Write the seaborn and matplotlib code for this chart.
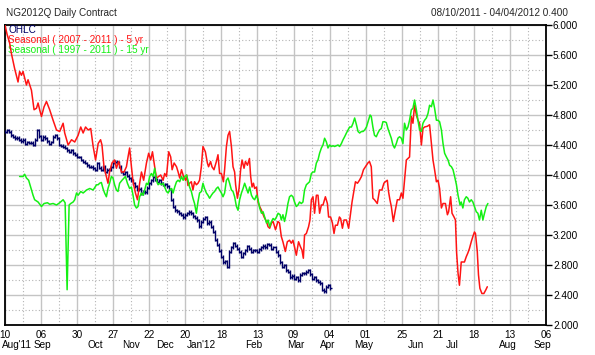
import numpy as np
import matplotlib
matplotlib.use("Agg")
import matplotlib.pyplot as plt
from matplotlib.ticker import MultipleLocator, FormatStrFormatter
import seaborn as sns

sns.set_style("white")
plt.rcParams["font.family"] = ["Liberation Sans", "DejaVu Sans"]

# trading-day axis: day 0 = 10 Aug 2011, one tick every 18 trading days
day_ticks = ["10", "06", "30", "27", "22", "20", "18", "13", "09", "04",
             "01", "25", "21", "18", "13", "06"]
month_names = ["Aug'11", "Sep", "Oct", "Nov", "Dec", "Jan'12", "Feb", "Mar",
               "Apr", "May", "Jun", "Jul", "Aug", "Sep"]
month_days = [4, 18.6, 45, 63, 80, 98, 124, 145, 161, 179, 205, 223, 251, 268]

# daily closes of NG2012Q, 10 Aug 2011 - 04 Apr 2012
closes = [4.58, 4.60, 4.58, 4.53, 4.51, 4.49, 4.50, 4.47, 4.45, 4.47, 4.42, 4.44,
          4.43, 4.43, 4.40, 4.47, 4.60, 4.52, 4.47, 4.51, 4.49, 4.45, 4.42, 4.44,
          4.51, 4.53, 4.49, 4.40, 4.39, 4.38, 4.36, 4.33, 4.31, 4.33, 4.29, 4.27,
          4.24, 4.24, 4.20, 4.18, 4.16, 4.13, 4.11, 4.11, 4.09, 4.07, 4.16, 4.10,
          4.07, 4.11, 4.04, 4.07, 4.07, 4.11, 4.16, 4.18, 4.17, 4.11,
          4.04, 4.02, 4.04, 3.99, 3.96, 3.93, 3.89, 3.85, 3.81, 3.82,
          3.76, 3.78, 3.77, 3.83, 3.89, 3.93, 3.98, 3.94, 3.91, 3.93,
          3.89, 3.87, 3.88, 3.85, 3.81, 3.67, 3.58, 3.53, 3.52, 3.49,
          3.47, 3.44, 3.47, 3.49, 3.51,
          3.49, 3.45, 3.43, 3.40, 3.32, 3.38, 3.42, 3.44, 3.36, 3.38,
          3.31, 3.24, 3.14, 3.07, 2.99, 2.91, 2.84, 2.85, 2.78, 2.98,
          3.04, 3.09, 3.06, 3.02, 2.98, 2.91, 2.96, 3.00, 3.05, 3.02,
          2.98, 3.00, 3.00, 2.98, 3.01, 3.04, 3.06, 3.04, 3.08, 3.07,
          3.02, 3.04, 2.98, 2.93,
          2.84, 2.78, 2.80, 2.73, 2.71, 2.64, 2.66, 2.62, 2.64, 2.60,
          2.67, 2.69, 2.69, 2.71, 2.73, 2.68, 2.62, 2.64, 2.60, 2.58,
          2.56, 2.47, 2.45, 2.51, 2.53, 2.49]

# seasonal 2007-2011 (5 yr)
red_day = [0, 1, 2.3, 3.2, 4.8, 6.5, 7.3, 8.2, 9, 10.7, 11.5, 13.2, 14.5, 15.7,
           16.5, 17.3, 18.2, 19.5, 20.7, 22.3, 24, 25.7, 27.3, 29, 29.8, 31.5,
           33.2, 34.8, 36.5, 37.8, 39, 40.2, 41.5, 42.8, 44, 45.2, 46.5, 47.7,
           48.4, 49.4, 50.6, 51.4, 52.2, 53.4, 54.7, 55.6, 56.7, 58.1, 59.4,
           60.6, 61.4, 62.2, 63.1, 63.9, 65.1, 66.1, 67.2, 68.1, 69.2, 70.6,
           71.7, 72.7, 73.6, 74.7, 75.6, 76.7, 77.7, 78.9, 79.7, 80.6, 81.7,
           82.7, 83.4, 84.4, 85.6, 86.4, 87.2, 88.1, 89.1, 90.1, 90.7, 91.3,
           92.1, 93, 93.8, 94.6, 95.5, 96.3, 97.1, 98, 98.8, 100, 101, 101.6,
           102.6, 103.3, 104.3, 105.5, 106.3, 107.1, 108, 109, 109.6, 110.5,
           111.3, 112.1, 113, 113.8, 114.6, 115.1, 116, 116.8, 117.6, 118.3,
           119.3, 120, 121, 122, 122.6, 123.3, 124, 124.6, 125.5, 126.3, 127.1,
           128, 129.3, 130.5, 131.3, 132.1, 133, 133.8, 135, 136.2, 137, 137.9,
           138.7, 139.9, 140.9, 142, 142.9, 143.7, 144.5, 145.4, 146.5, 147.5,
           148.2, 148.9, 149.5, 150.4, 151.5, 152.2, 152.9, 153.7, 154.5, 155.4,
           156.2, 157, 157.9, 158.7, 159.9, 160.9, 161.5, 162.5, 163.4, 164.2,
           164.9, 165.9, 166.9, 167.5, 168.4, 169.2, 170.4, 171.5, 172.5, 173.2,
           174.2, 174.9, 175.9, 176.9, 177.9, 178.9, 179.9, 181.1, 181.9, 182.8,
           183.6, 184.4, 185.8, 186.9, 188.1, 189.1, 189.8, 190.8, 191.4, 192.1,
           192.8, 193.8, 194.8, 195.8, 196.9, 197.8, 198.6, 199.4, 200.3, 201.1,
           201.9, 202.8, 203.6, 204.4, 205.3, 206.1, 206.9, 207.8, 208.6, 209.4,
           210.8, 211.9, 212.8, 213.6, 214.4, 215.3, 216.1, 216.9, 217.8, 218.6,
           219.8, 220.8, 221.4, 222.4, 223.1, 224.1, 224.8, 225.4, 226.1, 226.8,
           227.7, 229.3, 230.2, 231, 231.8, 232.7, 233.5, 234.3, 234.8, 235.7,
           236.3, 237, 238, 239, 240, 240.7]
red_val = [6.00, 5.88, 5.76, 5.62, 5.42, 5.24, 5.38, 5.33, 5.38, 5.20, 5.27, 5.13,
           4.87, 4.89, 4.96, 4.87, 4.78, 4.91, 4.98, 4.87, 4.73, 4.60, 4.58, 4.69,
           4.56, 4.40, 4.47, 4.44, 4.53, 4.64, 4.56, 4.64, 4.60, 4.62, 4.38, 4.20,
           4.42, 4.47, 4.40, 4.11, 3.98, 3.89, 4.04, 4.16, 4.20, 4.09, 4.18, 4.04,
           4.04, 4.11, 4.24, 4.36, 4.11, 3.91, 3.76, 3.67, 3.89, 4.04, 3.93, 4.16,
           4.29, 4.20, 4.31, 4.11, 3.96, 3.98, 4.00, 3.93, 4.02, 3.98, 4.31, 4.24,
           4.07, 4.16, 4.11, 4.04, 3.96, 4.07, 3.98, 3.93, 4.00, 3.86, 3.89, 3.91,
           3.80, 3.91, 3.87, 3.89, 3.93, 4.11, 4.38, 4.31, 4.16, 4.11, 4.18, 4.11,
           4.07, 4.18, 4.27, 4.02, 4.02, 3.91, 4.07, 4.38, 4.53, 4.58, 4.38, 4.11,
           4.04, 3.87, 3.69, 3.82, 4.07, 4.20, 4.09, 4.18, 4.13, 4.22, 3.98, 3.84,
           3.89, 3.82, 3.84, 3.64, 3.58, 3.53, 3.44, 3.38, 3.31, 3.29, 3.36, 3.38,
           3.27, 3.38, 3.36, 3.18, 3.11, 2.98, 3.11, 3.13, 3.09, 3.13, 3.04, 2.93,
           3.11, 3.04, 3.00, 2.89, 3.20, 3.22, 3.31, 3.40, 3.67, 3.71, 3.49, 3.73,
           3.73, 3.49, 3.60, 3.60, 3.71, 3.62, 3.44, 3.44, 3.36, 3.22, 3.33, 3.33,
           3.44, 3.42, 3.29, 3.40, 3.40, 3.29, 3.49, 3.64, 3.80, 3.91, 3.89, 3.93,
           3.98, 4.07, 4.11, 4.16, 4.18, 4.11, 3.69, 3.67, 3.62, 3.80, 3.80, 3.89,
           3.91, 3.93, 3.78, 3.67, 3.58, 3.38, 3.53, 3.67, 3.67, 3.76, 3.69, 3.93,
           4.20, 4.22, 4.24, 4.78, 4.69, 4.93, 4.80, 4.73, 4.69, 4.40, 4.62, 4.64,
           4.65, 4.67, 4.42, 4.20, 4.07, 3.91, 3.93, 3.82, 3.56, 3.62, 3.62, 3.47,
           3.51, 3.71, 3.49, 3.44, 3.40, 2.96, 2.69, 2.53, 2.84, 2.84, 2.91, 2.96,
           3.02, 3.11, 3.18, 3.24, 3.22, 2.98, 2.67, 2.49, 2.42, 2.42, 2.47, 2.51]

# seasonal 1997-2011 (15 yr)
green_day = [7.3, 9, 9.8, 10.7, 11.8, 12.8, 14, 14.8, 16.5, 18.2, 19.5, 21.2, 22.3,
             24, 25.7, 27.3, 29, 30, 31, 32, 32.8, 34, 34.8, 35.7, 36.5, 37.8, 39,
             40.7, 42.3, 44, 45.7, 46.5, 47.2, 48.1, 48.9, 49.7, 50.6, 51.4, 52.2,
             53.1, 53.9, 54.7, 55.6, 56.4, 57.2, 58.4, 59.4, 60.1, 61.1, 62.2, 63.1,
             63.9, 64.7, 65.6, 66.4, 67.2, 68.1, 68.9, 69.7, 70.6, 71.4, 72.2, 73.1,
             73.9, 74.7, 75.6, 76.4, 77.2, 78.1, 78.9, 79.7, 80.6, 81.4, 82.2, 83.1,
             83.9, 84.7, 85.6, 86.4, 87.2, 88.1, 88.9, 89.7, 90.6, 91.4, 92.1, 93,
             93.8, 94.6, 95.5, 96.3, 97.1, 98, 98.8, 99.6, 100.5, 101.3, 102.1, 103,
             103.8, 104.6, 105.5, 106.3, 107.1, 108, 108.8, 109.6, 110.5, 111.3,
             112.1, 113, 113.8, 114.6, 115.5, 116.3, 117.1, 118, 118.8, 119.6,
             120.5, 121.3, 122.1, 123, 123.8, 124.6, 125.5, 126.3, 127.1, 128,
             128.8, 129.6, 130.5, 131.3, 132.1, 133, 133.8, 134.6, 135.5, 136.3,
             137.3, 137.9, 138.7, 139.5, 140.4, 141.2, 142, 142.9, 143.7, 144.5,
             145.4, 146.2, 147, 147.9, 148.7, 149.5, 150.4, 151.2, 152, 152.9,
             153.7, 154.5, 155.4, 156.2, 157, 157.9, 158.7, 159.5, 160.4, 161.2,
             162, 162.9, 163.7, 164.5, 165.4, 166.2, 167, 167.9, 168.7, 169.5,
             170.4, 171.2, 172, 172.9, 173.7, 174.5, 175.4, 176.2, 177, 177.9,
             178.7, 179.5, 180.4, 181.2, 182.2, 182.8, 183.6, 184.4, 185.3, 186.1,
             186.9, 187.8, 188.6, 189.4, 190.3, 191.1, 191.9, 192.8, 193.6, 194.4,
             195.3, 196.1, 196.9, 197.8, 198.6, 199.4, 200.3, 201.1, 201.9, 202.8,
             203.6, 204.4, 205.3, 206.1, 206.9, 207.8, 208.6, 209.4, 210.3, 211.1,
             211.9, 212.8, 213.6, 214.4, 215.3, 216.1, 216.9, 217.8, 218.6, 219.4,
             220.3, 221.1, 221.9, 222.8, 223.6, 224.4, 225.3, 226.1, 227.1, 227.7,
             228.5, 229.3, 230.2, 231, 231.8, 232.7, 233.5, 234.3, 235.2, 236,
             236.8, 237.7, 238.5, 239.3, 240.2, 241]
green_val = [3.98, 3.98, 4.01, 3.96, 3.93, 3.84, 3.73, 3.67, 3.64, 3.58, 3.62, 3.63,
             3.61, 3.62, 3.60, 3.63, 3.67, 3.63, 2.47, 3.60, 3.62, 3.64, 3.67, 3.76,
             3.73, 3.78, 3.76, 3.80, 3.82, 3.80, 3.87, 3.87, 3.89, 3.90, 3.82, 3.76,
             3.71, 3.82, 3.89, 3.98, 3.96, 3.87, 3.80, 3.78, 3.89, 3.93, 3.96, 3.98,
             3.89, 3.82, 3.84, 3.73, 3.60, 3.56, 3.58, 3.71, 3.76, 3.73, 3.80, 3.89,
             3.87, 3.98, 4.02, 3.98, 4.09, 3.93, 3.87, 3.89, 3.87, 3.89, 3.84, 3.78,
             3.76, 3.80, 3.82, 3.76, 3.84, 3.91, 3.93, 3.91, 3.98, 3.93, 3.98, 4.00,
             3.92, 3.84, 3.78, 3.69, 3.62, 3.49, 3.64, 3.76, 3.78, 3.89, 3.82, 3.76,
             3.73, 3.69, 3.73, 3.76, 3.78, 3.82, 3.84, 3.80, 3.76, 3.71, 3.76, 3.93,
             3.96, 3.89, 3.80, 3.78, 3.71, 3.58, 3.53, 3.67, 3.76, 3.82, 3.89, 3.82,
             3.76, 3.84, 3.73, 3.69, 3.67, 3.73, 3.67, 3.56, 3.49, 3.51, 3.44, 3.36,
             3.40, 3.31, 3.38, 3.42, 3.40, 3.44, 3.49, 3.47, 3.40, 3.47, 3.38, 3.49,
             3.62, 3.71, 3.73, 3.71, 3.64, 3.58, 3.60, 3.64, 3.62, 3.64, 3.80, 3.87,
             3.89, 3.91, 4.02, 4.04, 4.04, 4.16, 4.20, 4.29, 4.36, 4.40, 4.49, 4.44,
             4.36, 4.40, 4.38, 4.39, 4.38, 4.39, 4.40, 4.38, 4.42, 4.47, 4.51, 4.56,
             4.60, 4.64, 4.64, 4.69, 4.76, 4.67, 4.58, 4.56, 4.58, 4.58, 4.60, 4.64,
             4.71, 4.80, 4.78, 4.64, 4.53, 4.51, 4.56, 4.60, 4.62, 4.71, 4.71, 4.70,
             4.62, 4.56, 4.49, 4.40, 4.36, 4.42, 4.49, 4.51, 4.49, 4.42, 4.69, 4.60,
             4.64, 4.73, 4.87, 4.89, 5.00, 4.87, 4.73, 4.60, 4.58, 4.69, 4.73, 4.76,
             4.82, 4.93, 4.91, 5.00, 4.89, 4.73, 4.73, 4.71, 4.60, 4.42, 4.29, 4.24,
             4.20, 4.13, 4.11, 4.07, 3.98, 3.87, 3.73, 3.60, 3.64, 3.56, 3.67, 3.71,
             3.69, 3.64, 3.67, 3.64, 3.58, 3.51, 3.49, 3.40, 3.53, 3.40, 3.49, 3.58,
             3.62]

navy = "#000066"
red = "#ff1414"
green = "#14f014"
fs = 7.2

fig = plt.figure(figsize=(5.95, 3.55), dpi=100)
ax = fig.add_axes([5 / 595, 30 / 355, 541 / 595, 300 / 355])

# grid: solid at labelled ticks, dotted halfway between
ax.set_xlim(0, 270)
ax.set_ylim(2.0, 6.0)
ax.xaxis.set_major_locator(MultipleLocator(18))
ax.xaxis.set_minor_locator(MultipleLocator(9))
ax.yaxis.set_major_locator(MultipleLocator(0.4))
ax.yaxis.set_minor_locator(MultipleLocator(0.2))
ax.grid(which="major", color="#c4c4c4", lw=1.0, ls="-")
ax.grid(which="minor", color="#b4b4b4", lw=0.8, ls=(0, (1, 2)))
ax.set_axisbelow(True)

# OHLC bars (open taken as prior close)
days = np.arange(len(closes))
opens = np.r_[closes[0], closes[:-1]]
lo = np.minimum(opens, closes) - 0.02
hi = np.maximum(opens, closes) + 0.02
ax.vlines(days, lo, hi, color=navy, lw=1.0, zorder=3)
ax.plot(days, opens, ls="none", marker=0, ms=1.6, mew=1.0, color=navy, zorder=3)
ax.plot(days, closes, ls="none", marker=1, ms=1.6, mew=1.0, color=navy, zorder=3)

sns.lineplot(x=red_day, y=red_val, color=red, lw=1.1, ax=ax, sort=False,
             estimator=None, zorder=4)
sns.lineplot(x=green_day, y=green_val, color=green, lw=1.1, ax=ax, sort=False,
             estimator=None, zorder=4)

# axes decoration
for s in ax.spines.values():
    s.set_color("black")
    s.set_linewidth(1.3)
ax.yaxis.tick_right()
ax.yaxis.set_major_formatter(FormatStrFormatter("%.3f"))
ax.tick_params(axis="y", which="major", direction="out", length=4, width=1,
               pad=1, labelsize=fs, colors="black")
ax.tick_params(axis="x", which="major", direction="out", length=3, width=1,
               pad=0.5, labelsize=fs, colors="black")
ax.tick_params(which="minor", length=0)
ax.set_xticks(np.arange(0, 271, 18))
ax.set_xticklabels(day_ticks)
ax.set_xlabel("")
ax.set_ylabel("")

for m, d in zip(month_names, month_days):
    if m == "Aug'11":
        # first label starts at the left edge of the plot
        ax.text(-1.3, -0.068, m, transform=ax.get_xaxis_transform(), ha="left",
                va="center", fontsize=fs, color="black")
        continue
    ax.text(d, -0.068, m, transform=ax.get_xaxis_transform(), ha="center",
            va="center", fontsize=fs, color="black")

# legend-like labels
ax.text(0.006, 0.983, "OHLC", transform=ax.transAxes, color=navy,
        fontsize=fs, va="center", ha="left")
ax.text(0.006, 0.950, "Seasonal ( 2007 - 2011 ) - 5 yr", transform=ax.transAxes,
        color=red, fontsize=fs, va="center", ha="left")
ax.text(0.006, 0.918, "Seasonal ( 1997 - 2011 ) - 15 yr", transform=ax.transAxes,
        color=green, fontsize=fs, va="center", ha="left")

fig.text(6 / 595, 1 - 13 / 355, "NG2012Q Daily Contract", fontsize=fs,
         ha="left", va="center")
fig.text(568 / 595, 1 - 13 / 355, "08/10/2011 - 04/04/2012 0.400", fontsize=fs,
         ha="right", va="center")

fig.savefig("out.png", dpi=100)
